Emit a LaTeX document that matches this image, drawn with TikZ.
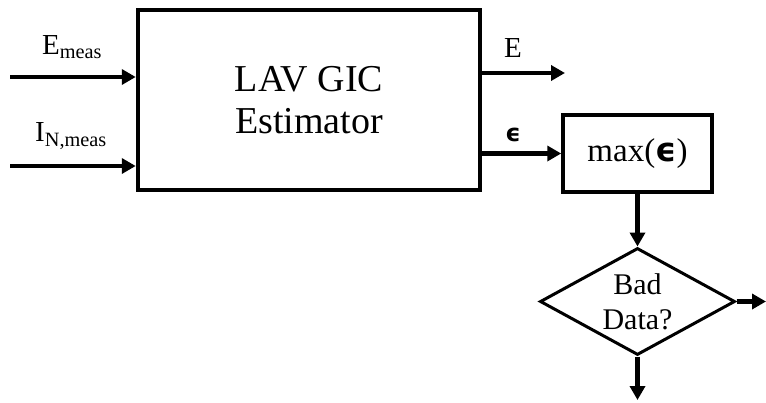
\documentclass[tikz,border=0pt]{standalone}
\usepackage{amsmath,amssymb}
\usepackage{fontspec}
\setmainfont{Liberation Serif}
\newfontfamily\epsfont{DejaVu Sans}
\newcommand{\beps}{{\epsfont\bfseries ϵ}}
\usepackage{tikz}
\usetikzlibrary{arrows.meta,positioning,calc,shapes.geometric}

\tikzset{
  blk/.style={draw=black,line width=4.5pt,inner sep=0pt},
  flow/.style={line width=4.5pt,-{Triangle[length=14pt,width=15pt]}},
  lbl/.style={inner sep=0pt,font=\fontsize{29}{32}\selectfont},
}

\begin{document}
\begin{tikzpicture}[x=1pt,y=-1pt]
  \useasboundingbox (0,0) rectangle (766,402);
  % estimator block and its inputs
  \node[blk,minimum width=342pt,minimum height=180pt,align=center,
        font=\fontsize{38}{42}\selectfont] (est) at (309,100) {LAV GIC\\Estimator};
  \coordinate (inE) at (10,77);
  \coordinate (inI) at (10,166);
  \draw[flow] (inE) -- (inE -| est.west);
  \draw[flow] (inI) -- (inI -| est.west);
  \node[lbl] (lE) at (72,47) {E\textsubscript{meas}};
  \node[lbl] (lI) at (71,136) {I\textsubscript{N,meas}};

  % outputs
  \node[blk,line width=3.5pt,minimum width=149pt,minimum height=77pt,
        font=\fontsize{33}{36}\selectfont] (maxb) at (637.5,153.5) {max(\beps)};
  \coordinate (outE) at (565,73);
  \draw[flow] (est.east |- outE) -- (outE);
  \draw[flow] (est.east |- maxb) -- (maxb.west);
  \node[lbl] (lOut) at (513,48) {E};
  \node[lbl,font=\fontsize{24}{28}\selectfont] (lEps) at (513,135) {\beps};

  % bad data check
  \node[draw=black,line width=3pt,shape=diamond,aspect=1.8,inner sep=0pt,
        minimum width=195pt,minimum height=107pt,align=center,
        font=\fontsize{30}{35}\selectfont] (bad) at (637.5,301.5) {Bad\\Data?};
  \coordinate (yes) at (766,301.5);
  \coordinate (no) at (637.5,400);
  \draw[flow] (maxb.south) -- (bad.north);
  \draw[flow] (bad.east) -- (yes);
  \draw[flow] (bad.south) -- (no);
\end{tikzpicture}
\end{document}
